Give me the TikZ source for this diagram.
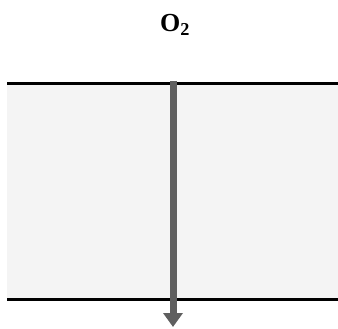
\documentclass[tikz,border=0pt]{standalone}
\usepackage{fontspec}
\setmainfont{Liberation Serif}
\usetikzlibrary{arrows.meta}
\definecolor{bandgray}{HTML}{F4F4F4}
\definecolor{arrowgray}{HTML}{5F5F5F}
\tikzset{
  edge/.style={line width=3pt, black},
  flux/.style={line width=7pt, arrowgray, -{Triangle[length=14pt,width=19pt]}},
  label/.style={font=\bfseries\fontsize{26}{30}\selectfont, inner sep=0pt}
}
\begin{document}
\begin{tikzpicture}[x=1pt,y=-1pt]
\useasboundingbox (0,0) rectangle (338,329);
\fill[bandgray] (7,84) rectangle (338,299);
\draw[edge] (7,84) -- (338,84);
\draw[edge] (7,299) -- (338,299);
\coordinate (top) at (173,81);
\coordinate (bot) at (173,327);
\draw[flux] (top) -- (bot);
\node[label] (o2) at (175,25) {O\textsubscript{2}};
\end{tikzpicture}
\end{document}
